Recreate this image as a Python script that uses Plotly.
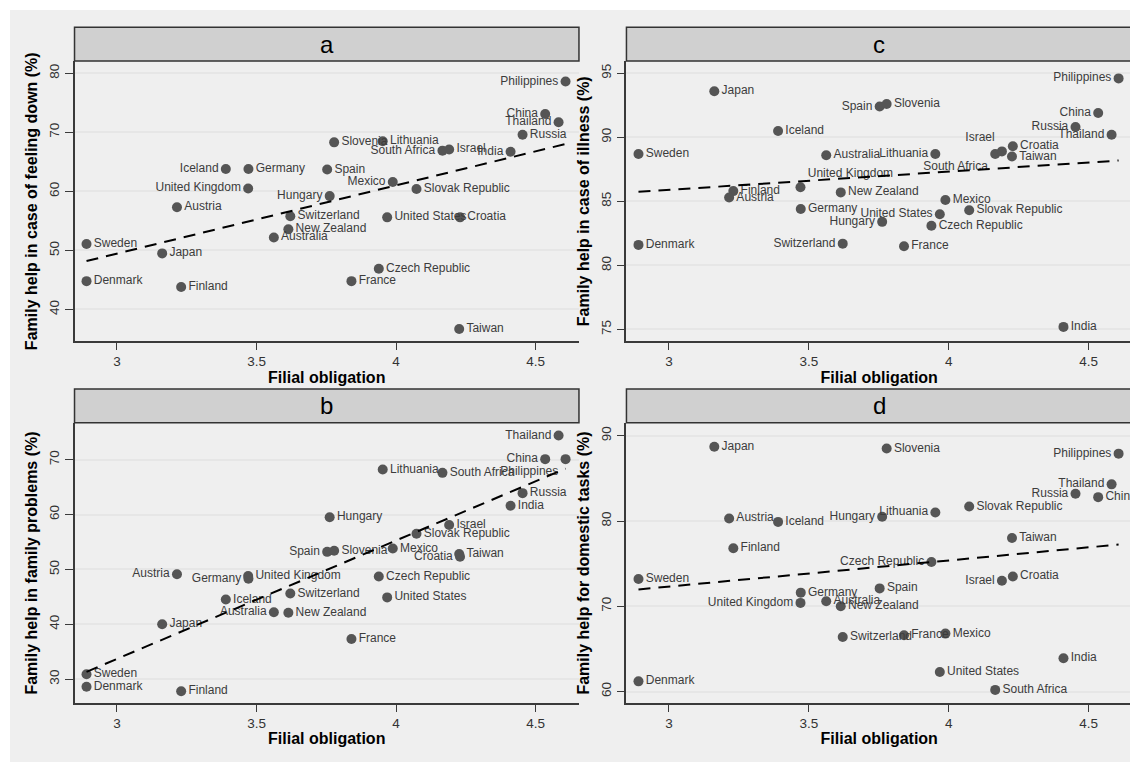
import numpy as np
import plotly.graph_objects as go

countries = ["Sweden", "Denmark", "Japan", "Finland", "Austria", "United Kingdom",
             "Iceland", "Germany", "Australia", "New Zealand", "Switzerland", "Hungary",
             "Spain", "Slovenia", "Lithuania", "Czech Republic", "France", "Mexico",
             "United States", "Slovak Republic", "South Africa", "Israel", "Croatia",
             "Taiwan", "India", "Russia", "China", "Thailand", "Philippines"]

filial = [2.891, 2.891, 3.162, 3.230, 3.215, 3.470, 3.390, 3.471, 3.562, 3.614,
          3.621, 3.762, 3.753, 3.778, 3.952, 3.938, 3.840, 3.988, 3.968, 4.073,
          4.166, 4.190, 4.229, 4.226, 4.410, 4.453, 4.534, 4.582, 4.607]

# a: feeling down
feeling_down = [51.1, 44.8, 49.5, 43.8, 57.3, 60.5, 63.8, 63.8, 52.2, 53.6,
                55.8, 59.2, 63.7, 68.3, 68.5, 46.9, 44.8, 61.6, 55.6, 60.4,
                66.9, 67.1, 55.6, 36.7, 66.7, 69.6, 73.1, 71.7, 78.6]
# b: family problems
family_problems = [30.9, 28.6, 40.0, 27.8, 49.1, 48.8, 44.5, 48.3, 42.2, 42.1,
                   45.6, 59.5, 53.2, 53.4, 68.2, 48.7, 37.3, 53.8, 44.9, 56.5,
                   67.6, 58.1, 52.3, 52.8, 61.6, 63.9, 70.1, 74.4, 70.1]
# c: illness
illness = [88.7, 81.6, 93.6, 85.8, 85.3, 86.1, 90.5, 84.4, 88.6, 85.7,
           81.7, 83.4, 92.4, 92.6, 88.7, 83.1, 81.5, 85.1, 84.0, 84.3,
           88.7, 88.9, 89.3, 88.5, 75.2, 90.8, 91.9, 90.2, 94.6]
# d: domestic tasks
domestic = [73.2, 61.2, 88.7, 76.8, 80.3, 70.4, 79.9, 71.6, 70.6, 70.0,
            66.4, 80.5, 72.1, 88.5, 81.0, 75.2, 66.6, 66.8, 62.3, 81.7,
            60.2, 73.0, 73.5, 78.0, 63.9, 83.2, 82.8, 84.3, 87.9]

panel_letters = ["a", "b", "c", "d"]
y_titles = ["Family help in case of feeling down (%)",
            "Family help in family problems (%)",
            "Family help in case of illness (%)",
            "Family help for domestic tasks (%)"]
y_ticks = [[40, 50, 60, 70, 80], [30, 40, 50, 60, 70], [75, 80, 85, 90, 95], [60, 70, 80, 90]]
x_ticks = [3, 3.5, 4, 4.5]
x_tick_text = ["3", "3.5", "4", "4.5"]

L, R = "middle left", "middle right"
# label positions (style), keyed by country, default right
pos_a = {"Philippines": L, "China": L, "Thailand": L, "India": L, "South Africa": L,
         "Iceland": L, "Mexico": L, "United Kingdom": L, "Hungary": L}
pos_b = {"Thailand": L, "China": L, "Philippines": "bottom left", "Spain": L,
         "Croatia": L, "Austria": L, "Germany": L, "Australia": L}
pos_c = {"Philippines": L, "Spain": L, "China": L, "Russia": L, "Thailand": L,
         "Lithuania": L, "Israel": "top left", "South Africa": "bottom left",
         "United Kingdom": "top right", "United States": L, "Hungary": L,
         "Switzerland": L}
pos_d = {"Philippines": L, "Thailand": L, "Russia": L, "Lithuania": L, "Hungary": L,
         "Czech Republic": L, "Israel": L, "United Kingdom": L}

panels = [
    dict(vals=feeling_down, pos=pos_a, yr=[34.58, 82.08], xd=[0.0572, 0.5044], yd=[0.5592, 0.9322]),
    dict(vals=family_problems, pos=pos_b, yr=[25.6, 76.74], xd=[0.0572, 0.5044], yd=[0.0781, 0.4512]),
    dict(vals=illness, pos=pos_c, yr=[74.06, 95.96], xd=[0.5465, 0.9947], yd=[0.5592, 0.9322]),
    dict(vals=domestic, pos=pos_d, yr=[58.63, 91.53], xd=[0.5465, 0.9947], yd=[0.0781, 0.4512]),
]

BG = "#efefef"
AXC = "#3a3a3a"
FONT = "Liberation Sans, Arial, sans-serif"

fig = go.Figure()
# the page body adds 8px around the figure; the figure itself is sized so it fills the window
layout = dict(
    width=1130, height=754,
    margin=dict(l=2, r=0, t=2, b=0),
    paper_bgcolor="white", plot_bgcolor="white",
    showlegend=False,
    font=dict(family=FONT, color="#333333"),
)
shapes = [dict(type="rect", xref="paper", yref="paper", x0=0, x1=1.01, y0=-0.01, y1=1,
               fillcolor=BG, line=dict(width=0), layer="below")]
annotations = []

xarr = np.array(filial)
for i, p in enumerate(panels):
    n = i + 1
    xa = "x" if n == 1 else f"x{n}"
    ya = "y" if n == 1 else f"y{n}"
    vals = np.array(p["vals"])
    positions = [p["pos"].get(c, R) for c in countries]
    fig.add_trace(go.Scatter(
        x=filial, y=p["vals"], mode="markers+text", text=countries,
        textposition=positions,
        textfont=dict(size=12, color="#3c3c3c", family=FONT),
        marker=dict(size=10, color="#555555"),
        xaxis=xa, yaxis=ya, cliponaxis=False, hoverinfo="skip"))
    slope, icpt = np.polyfit(xarr, vals, 1)
    xs = np.array([xarr.min(), xarr.max()])
    fig.add_trace(go.Scatter(
        x=xs, y=slope * xs + icpt, mode="lines",
        line=dict(color="black", width=2, dash="12px,8px"),
        xaxis=xa, yaxis=ya, hoverinfo="skip"))

    layout["xaxis" if n == 1 else f"xaxis{n}"] = dict(
        domain=p["xd"], range=[2.848, 4.655], anchor=ya,
        tickvals=x_ticks, ticktext=x_tick_text, ticks="outside", ticklen=7,
        tickwidth=1.3, tickcolor=AXC, showline=True, linecolor=AXC, linewidth=1.5,
        showgrid=False, zeroline=False,
        tickfont=dict(size=13.5, color="#333333"),
        title=dict(text="<b>Filial obligation</b>", font=dict(size=16, color="black"), standoff=3),
    )
    layout["yaxis" if n == 1 else f"yaxis{n}"] = dict(
        domain=p["yd"], range=p["yr"], anchor=xa,
        tickvals=y_ticks[i], ticks="outside", ticklen=8, tickangle=-90,
        tickwidth=1.3, tickcolor=AXC, showline=True, linecolor=AXC, linewidth=1.5,
        showgrid=True, gridcolor="#e6e6e6", gridwidth=1.5, zeroline=False,
        tickfont=dict(size=13.5, color="#333333"),
        title=dict(text=f"<b>{y_titles[i]}</b>", font=dict(size=16, color="black"), standoff=6),
    )
    # header strip
    hy0 = p["yd"][1]
    hy1 = hy0 + 0.0448
    shapes.append(dict(type="rect", xref="paper", yref="paper",
                       x0=p["xd"][0], x1=p["xd"][1], y0=hy0, y1=hy1,
                       fillcolor="#d0d0d0", line=dict(color="#333333", width=1.5)))
    annotations.append(dict(xref="paper", yref="paper", x=(p["xd"][0] + p["xd"][1]) / 2,
                            y=(hy0 + hy1) / 2, text=panel_letters[i], showarrow=False,
                            font=dict(size=24, color="black", family=FONT),
                            xanchor="center", yanchor="middle"))

layout["shapes"] = shapes
layout["annotations"] = annotations
fig.update_layout(**layout)
fig.write_html("out.html")
